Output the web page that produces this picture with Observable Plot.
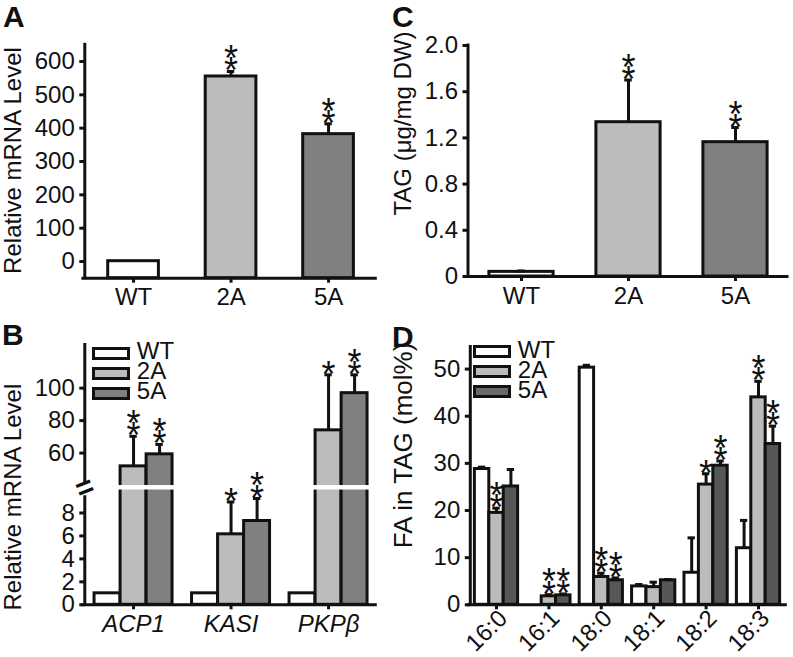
<!DOCTYPE html>
<html>
<head>
<meta charset="utf-8">
<script src="https://cdn.jsdelivr.net/npm/d3@7"></script>
<script src="https://cdn.jsdelivr.net/npm/@observablehq/plot@0.6"></script>
<style>
  html, body { margin: 0; padding: 0; background: #fff; }
  #fig { position: relative; width: 793px; height: 657px; overflow: hidden; font-family: "Liberation Sans", Arial, sans-serif; color: #111; }
  .panel { position: absolute; }
  .letter { position: absolute; font-weight: bold; font-size: 30px; line-height: 26px; }
  .lg-box { position: absolute; width: 38px; height: 13px; box-sizing: border-box; border: 3px solid #111; }
  .lg-text { position: absolute; font-size: 24px; line-height: 24px; white-space: nowrap; }
</style>
</head>
<body>
<div id="fig"></div>
<script>
// ---------- data ----------
const lines = ["WT", "2A", "5A"];

// Panel A: relative mRNA level
const mrnaValues = [1, 555, 382];
const mrnaErrors = [0, 15, 31];
const mrnaStars = [0, 2, 2];
const mrnaTicks = [0, 100, 200, 300, 400, 500, 600];

// Panel C: TAG content
const tagValues = [0.04, 1.336, 1.163];
const tagErrors = [0.008, 0.365, 0.127];
const tagStars = [0, 2, 2];
const tagTicks = [0, 0.4, 0.8, 1.2, 1.6, 2.0];

// Panel B: gene expression
const genes = ["ACP1", "KASI", "PKPβ"];
const geneWT = [1, 1, 1];
const geneWTErr = [0, 0, 0];
const gene2A = [51.8, 6.14, 74];
const gene2AErr = [18.5, 2.82, 34.2];
const gene5A = [59.2, 7.3, 96.9];
const gene5AErr = [6.1, 1.96, 11.3];
const geneWTStars = [0, 0, 0];
const gene2AStars = [2, 1, 1];
const gene5AStars = [2, 2, 2];
const geneTicks = [0, 2, 4, 6, 8, 60, 80, 100];

// Panel D: fatty acid composition of TAG
const fattyAcids = ["16:0", "16:1", "18:0", "18:1", "18:2", "18:3"];
const faWT = [28.8, 0, 50.3, 3.9, 6.8, 12.0];
const faWTErr = [0.4, 0, 0.5, 0.4, 7.4, 5.9];
const fa2A = [19.5, 1.8, 5.9, 3.75, 25.5, 44.0];
const fa2AErr = [1.0, 0.35, 0.8, 1.05, 2.3, 3.4];
const fa5A = [25.1, 2.0, 5.2, 5.2, 29.5, 34.1];
const fa5AErr = [3.6, 0.3, 0.5, 0.15, 1.0, 3.8];
const faWTStars = [0, 0, 0, 0, 0, 0];
const fa2AStars = [2, 2, 2, 0, 1, 2];
const fa5AStars = [0, 2, 2, 0, 2, 2];
const faTicks = [0, 10, 20, 30, 40, 50];

// ---------- style ----------
const INK = "#111";
const FONT = '"Liberation Sans", Arial, sans-serif';
const shadesABC = ["#ffffff", "#bcbcbc", "#808080"];
const shadesD = ["#ffffff", "#bcbcbc", "#575757"];
const legendD = ["#ffffff", "#bcbcbc", "#6a6a6a"];
const STYLE = {fontFamily: FONT, fontSize: "24px", color: INK, background: "transparent", overflow: "visible"};
const fig = document.getElementById("fig");
const ident = v => v;

function place(node, left, top) {
  node.classList.add("panel");
  node.style.left = left + "px";
  node.style.top = top + "px";
  fig.appendChild(node);
}

function singleRows(values, errors, stars) {
  return values.map((v, i) => ({x: i, v, e: errors[i], n: stars[i], s: lines[i]}));
}
function groupRows(series, offsets) {
  const rows = [];
  series.forEach((sr, k) => sr.values.forEach((v, i) =>
    rows.push({x: i + offsets[k], v, e: sr.errors[i], n: sr.stars[i], s: lines[k]})));
  return rows;
}

function barMarks(rows, hw, base, f = ident) {
  return [
    Plot.rectY(rows.filter(d => d.v > 0), {x1: d => d.x - hw, x2: d => d.x + hw, y1: () => f(base), y2: d => f(d.v),
      fill: "s", stroke: INK, strokeWidth: 3})
  ];
}
function errMarks(rows, cap, f = ident) {
  const er = rows.filter(d => d.e > 0);
  return [
    Plot.ruleX(er, {x: "x", y1: d => f(d.v), y2: d => f(d.v + d.e), stroke: INK, strokeWidth: 3}),
    Plot.ruleY(er, {y: d => f(d.v + d.e), x1: d => d.x - cap, x2: d => d.x + cap, stroke: INK, strokeWidth: 3}),
    Plot.text(rows.filter(d => d.n > 0), {x: "x", y: d => f(d.v + d.e), text: d => Array(d.n).fill("*").join("\n"),
      lineAnchor: "bottom", lineHeight: 0.34, fontSize: 36, dy: 12, fill: INK})
  ];
}
function titleMark(text, dx, dy, size) {
  return Plot.text([text], {text: d => d, frameAnchor: "left", rotate: -90, dx, dy, fontSize: size,
    textAnchor: "middle", lineAnchor: "middle", fill: INK});
}
function yAxis(ticks, fmt) {
  return Plot.axisY({ticks, tickFormat: fmt, tickSize: 5, tickPadding: 5, strokeWidth: 3, label: null, fill: INK});
}
function xAxis(cats, extra = {}) {
  return Plot.axisX({ticks: cats.map((c, i) => i), tickFormat: i => cats[i], tickSize: 5, tickPadding: 5,
    strokeWidth: 3, label: null, fill: INK, ...extra});
}
function letter(ch, left, baseline) {
  const d = document.createElement("div");
  d.className = "letter"; d.textContent = ch;
  d.style.left = left + "px"; d.style.top = (baseline - 23.4) + "px";
  fig.appendChild(d);
}
function legend(left, top, colors) {
  lines.forEach((nm, k) => {
    const b = document.createElement("div");
    b.className = "lg-box"; b.style.left = left + "px"; b.style.top = (top + 20 * k) + "px"; b.style.background = colors[k];
    fig.appendChild(b);
    const t = document.createElement("div");
    t.className = "lg-text"; t.textContent = nm;
    t.style.left = (left + 44.5) + "px"; t.style.top = (top + 20 * k - 7.3) + "px";
    fig.appendChild(t);
  });
}

// ---------- Panel A ----------
const xA = [-0.5, 2.5];
const rowsA = singleRows(mrnaValues, mrnaErrors, mrnaStars);
place(Plot.plot({
  width: 385, height: 320,
  marginLeft: 84.3, marginRight: 8.2, marginTop: 44.3, marginBottom: 42.3,
  x: {domain: xA},
  y: {domain: [-50, 650]},
  color: {domain: lines, range: shadesABC},
  style: STYLE,
  marks: [
    ...barMarks(rowsA, 0.26, -50),
    ...errMarks(rowsA, 0.038),
    Plot.ruleX([xA[0]], {y1: () => -50, y2: () => 650, stroke: INK, strokeWidth: 3, strokeLinecap: "square"}),
    Plot.ruleY([-50], {x1: () => xA[0] - 0.03, x2: () => xA[1], stroke: INK, strokeWidth: 3}),
    yAxis(mrnaTicks),
    xAxis(lines),
    titleMark("Relative mRNA Level", -71, -1, 24)
  ]
}), 0, 0);

// ---------- Panel C ----------
const xC = [-0.5, 2.5];
const rowsC = singleRows(tagValues, tagErrors, tagStars);
place(Plot.plot({
  width: 408, height: 320,
  marginLeft: 82.5, marginRight: 4.5, marginTop: 45, marginBottom: 44,
  x: {domain: xC},
  y: {domain: [0, 2.0]},
  color: {domain: lines, range: shadesABC},
  style: STYLE,
  marks: [
    ...barMarks(rowsC, 0.3, 0),
    ...errMarks(rowsC, 0.035),
    Plot.ruleX([xC[0]], {y1: () => 0, y2: () => 2.0, stroke: INK, strokeWidth: 3, strokeLinecap: "square"}),
    Plot.ruleY([0], {x1: () => xC[0] - 0.03, x2: () => xC[1], stroke: INK, strokeWidth: 3}),
    yAxis(tagTicks, d => d === 0 ? "0" : d.toFixed(1)),
    xAxis(lines),
    titleMark("TAG (μg/mg DW)", -65, -37.5, 24)
  ]
}), 385, 0);

// ---------- Panel B (broken axis) ----------
const xB = [-0.5, 2.5];
const lowTop = 10, highBottom = 40, highTop = 127.5;
const gapP = 0.392, upperRatio = 0.1414;   // visual size of the break and of the upper segment
const brk = v => v <= lowTop ? v
  : v >= highBottom ? lowTop + gapP + (v - highBottom) * upperRatio
  : lowTop + gapP * (v - lowTop) / (highBottom - lowTop);
const geneTickLabel = new Map(geneTicks.map(t => [brk(t), String(t)]));
const rowsB = groupRows([
  {values: geneWT, errors: geneWTErr, stars: geneWTStars},
  {values: gene2A, errors: gene2AErr, stars: gene2AStars},
  {values: gene5A, errors: gene5AErr, stars: gene5AStars}
], [-0.267, 0, 0.267]);
place(Plot.plot({
  width: 385, height: 337,
  marginLeft: 84.3, marginRight: 8.2, marginTop: 23, marginBottom: 52.7,
  x: {domain: xB},
  y: {domain: [0, brk(highTop)]},
  color: {domain: lines, range: shadesABC},
  style: STYLE,
  marks: [
    ...barMarks(rowsB, 0.133, 0, brk),
    Plot.rectY([0], {x1: () => xB[0] + 0.05, x2: () => xB[1], y1: () => brk(lowTop), y2: () => brk(highBottom), fill: "white"}),
    ...errMarks(rowsB, 0.038, brk),
    Plot.ruleX([xB[0]], {y1: () => 0, y2: () => brk(9.5), stroke: INK, strokeWidth: 3}),
    Plot.ruleX([xB[0]], {y1: () => brk(41), y2: () => brk(highTop), stroke: INK, strokeWidth: 3}),
    Plot.text(["="], {x: () => xB[0], y: () => lowTop + gapP / 2, text: d => d, rotate: -22,
      fontSize: 30, fontWeight: "bold", textAnchor: "middle", lineAnchor: "middle", fill: INK}),
    Plot.ruleY([0], {x1: () => xB[0] - 0.03, x2: () => xB[1], stroke: INK, strokeWidth: 3}),
    yAxis(geneTicks.map(brk), d => geneTickLabel.get(d)),
    xAxis(genes, {fontStyle: "italic"}),
    titleMark("Relative mRNA Level", -71, 23, 24)
  ]
}), 0, 320);

// ---------- Panel D ----------
const xD = [-0.5, 5.5];
const rowsD = groupRows([
  {values: faWT, errors: faWTErr, stars: faWTStars},
  {values: fa2A, errors: fa2AErr, stars: fa2AStars},
  {values: fa5A, errors: fa5AErr, stars: fa5AStars}
], [-0.275, 0, 0.275]);
place(Plot.plot({
  width: 408, height: 337,
  marginLeft: 84.8, marginRight: 8.8, marginTop: 25, marginBottom: 52.7,
  x: {domain: xD},
  y: {domain: [0, 55]},
  color: {domain: lines, range: shadesD},
  style: STYLE,
  marks: [
    ...barMarks(rowsD, 0.1375, 0),
    ...errMarks(rowsD, 0.07),
    Plot.ruleX([xD[0]], {y1: () => 0, y2: () => 55, stroke: INK, strokeWidth: 3}),
    Plot.ruleY([0], {x1: () => xD[0] - 0.05, x2: () => xD[1] + 0.05, stroke: INK, strokeWidth: 3}),
    yAxis(faTicks),
    xAxis(fattyAcids, {tickFormat: () => ""}),
    Plot.text(fattyAcids, {x: (d, i) => i, frameAnchor: "bottom", text: d => d, rotate: -45,
      textAnchor: "end", lineAnchor: "middle", dx: 6.7, dy: 9.5, fontSize: 24, fill: INK}),
    titleMark("FA in TAG (mol%)", -66.3, -29.7, 26)
  ]
}), 385, 320);

// ---------- legends & panel letters ----------
legend(92.3, 346.7, shadesABC);
legend(473.3, 345, legendD);
letter("A", 3, 27);
letter("B", 2, 345);
letter("C", 392, 27);
letter("D", 392, 347);
</script>
</body>
</html>
